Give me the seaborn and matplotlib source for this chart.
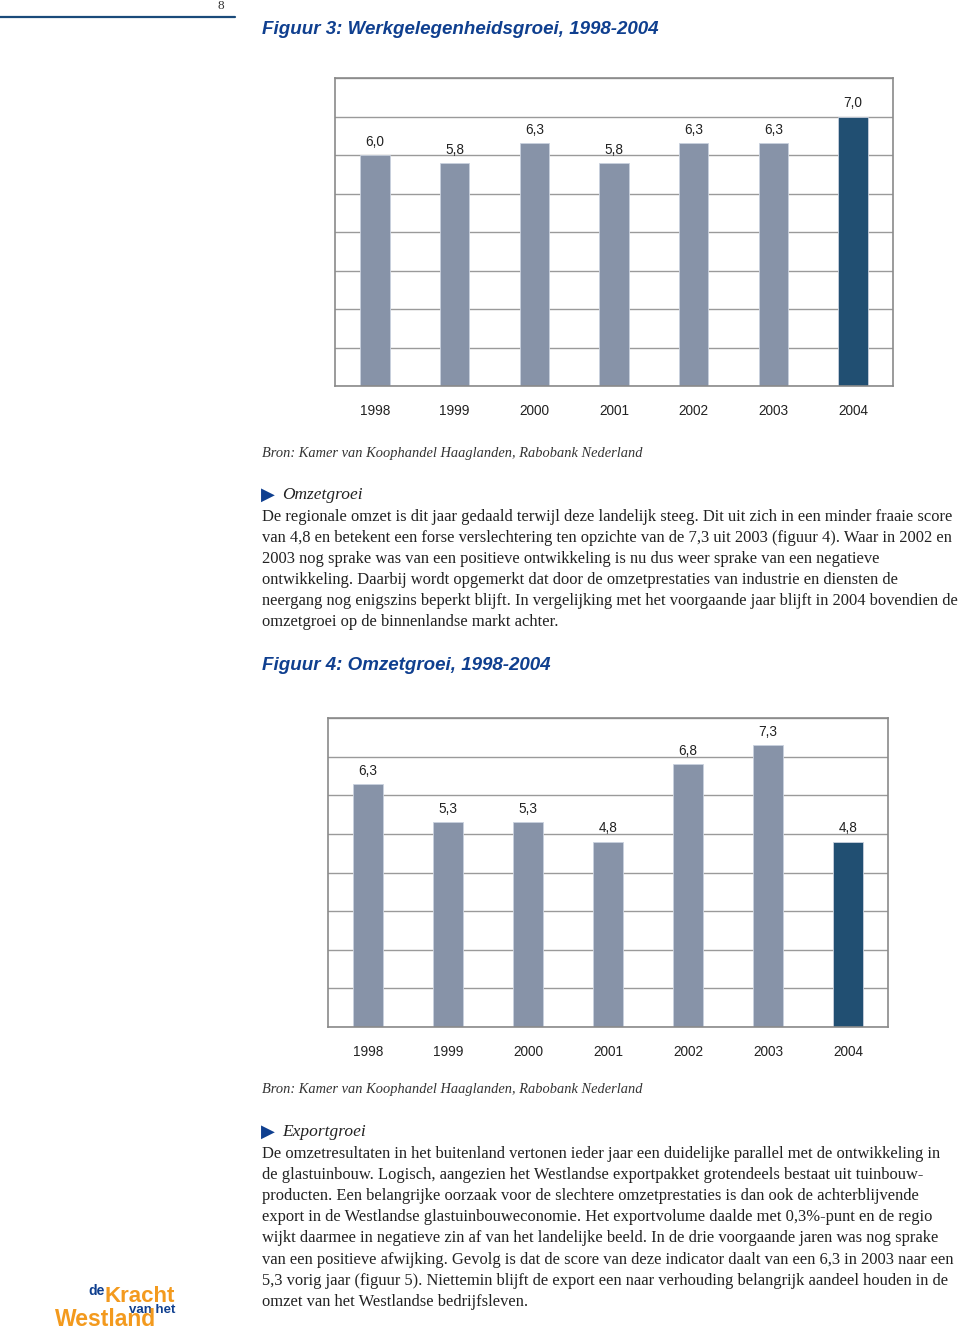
import matplotlib
matplotlib.use('Agg')
import matplotlib.pyplot as plt
import seaborn as sns

# data
years = ['1998', '1999', '2000', '2001', '2002', '2003', '2004']
werkgelegenheid = [6.0, 5.8, 6.3, 5.8, 6.3, 6.3, 7.0]
omzet = [6.3, 5.3, 5.3, 4.8, 6.8, 7.3, 4.8]
labels_werk = ['6,0', '5,8', '6,3', '5,8', '6,3', '6,3', '7,0']
labels_omzet = ['6,3', '5,3', '5,3', '4,8', '6,8', '7,3', '4,8']

titel3 = 'Figuur 3: Werkgelegenheidsgroei, 1998-2004'
titel4 = 'Figuur 4: Omzetgroei, 1998-2004'
bron = 'Bron: Kamer van Koophandel Haaglanden, Rabobank Nederland'

kop1 = 'Omzetgroei'
tekst1 = [
    'De regionale omzet is dit jaar gedaald terwijl deze landelijk steeg. Dit uit zich in een minder fraaie score',
    'van 4,8 en betekent een forse verslechtering ten opzichte van de 7,3 uit 2003 (figuur 4). Waar in 2002 en',
    '2003 nog sprake was van een positieve ontwikkeling is nu dus weer sprake van een negatieve',
    'ontwikkeling. Daarbij wordt opgemerkt dat door de omzetprestaties van industrie en diensten de',
    'neergang nog enigszins beperkt blijft. In vergelijking met het voorgaande jaar blijft in 2004 bovendien de',
    'omzetgroei op de binnenlandse markt achter.',
]
kop2 = 'Exportgroei'
tekst2 = [
    'De omzetresultaten in het buitenland vertonen ieder jaar een duidelijke parallel met de ontwikkeling in',
    'de glastuinbouw. Logisch, aangezien het Westlandse exportpakket grotendeels bestaat uit tuinbouw-',
    'producten. Een belangrijke oorzaak voor de slechtere omzetprestaties is dan ook de achterblijvende',
    'export in de Westlandse glastuinbouweconomie. Het exportvolume daalde met 0,3%-punt en de regio',
    'wijkt daarmee in negatieve zin af van het landelijke beeld. In de drie voorgaande jaren was nog sprake',
    'van een positieve afwijking. Gevolg is dat de score van deze indicator daalt van een 6,3 in 2003 naar een',
    '5,3 vorig jaar (figuur 5). Niettemin blijft de export een naar verhouding belangrijk aandeel houden in de',
    'omzet van het Westlandse bedrijfsleven.',
]

licht = '#8191ae'
donker = '#14517f'
blauw = '#0f3f8f'
oranje = '#f39a1e'
kleuren = {y: licht for y in years}
kleuren['2004'] = donker

sns.set_style('white')
W, H = 960, 1329
fig = plt.figure(figsize=(W / 100, H / 100), dpi=100)

def fy(y):
    return 1 - y / H

def fx(x):
    return x / W

serif = ['Liberation Serif', 'DejaVu Serif']
sans = ['Liberation Sans', 'DejaVu Sans']


def staafgrafiek(rect, waarden, labels):
    ax = fig.add_axes(rect)
    sns.barplot(x=years, y=waarden, hue=years, palette=kleuren, legend=False,
                width=0.37, edgecolor='#c9d1de', linewidth=0.6, ax=ax)
    ax.set_xlim(-0.5, 6.5)
    ax.set_ylim(0, 8)
    ax.set_yticks(range(0, 9))
    ax.set_yticklabels([])
    ax.yaxis.grid(True, color='#9a9a9a', lw=1)
    ax.set_axisbelow(True)
    ax.tick_params(length=0)
    ax.tick_params(axis='x', pad=13)
    for lab in ax.get_xticklabels():
        lab.set_family(sans)
        lab.set_fontsize(9.8)
        lab.set_color('#222222')
    for s in ax.spines.values():
        s.set_visible(True)
        s.set_color('#8a8a8a')
        s.set_linewidth(1.2)
    for i, (v, t) in enumerate(zip(waarden, labels)):
        ax.text(i, v + 0.34, t, ha='center', va='center', family=sans,
                fontsize=9.8, color='#222222')
    return ax


staafgrafiek([fx(335), fy(386), 558 / W, 308 / H], werkgelegenheid, labels_werk)
staafgrafiek([fx(328), fy(1027), 560 / W, 309 / H], omzet, labels_omzet)

# header
fig.add_artist(plt.Line2D([0, fx(235)], [fy(17), fy(17)], color='#1a4a7a', lw=1.6))
fig.text(fx(221), fy(6), '8', family=serif, fontsize=9.5, ha='center', va='center', color='#333333')

titel_font = dict(family=sans, weight='bold', style='italic',
                  fontsize=13.5, color=blauw, ha='left', va='center')
fig.text(fx(262), fy(29), titel3, **titel_font)
fig.text(fx(262), fy(665), titel4, **titel_font)

bron_font = dict(family=serif, style='italic', fontsize=10.4, color='#333333', ha='left', va='center')
fig.text(fx(262), fy(453), bron, **bron_font)
fig.text(fx(262), fy(1090), bron, **bron_font)


def paragraaf(y_kop, kop, regels):
    fig.text(fx(261), fy(y_kop), '\u25b6', family='DejaVu Sans', fontsize=13,
             color=blauw, ha='left', va='center')
    fig.text(fx(282), fy(y_kop), kop, family=serif, style='italic', fontsize=12.5,
             color='#222222', ha='left', va='center')
    for i, r in enumerate(regels):
        fig.text(fx(262), fy(y_kop + 22 + i * 21.1), r, family=serif, fontsize=11.9,
                 color='#222222', ha='left', va='center')


paragraaf(495, kop1, tekst1)
paragraaf(1132, kop2, tekst2)

# logo
logo = dict(family=sans, weight='bold', ha='left', va='baseline')
fig.text(fx(88), fy(1295), 'de', color=blauw, fontsize=10, **logo)
fig.text(fx(104), fy(1302), 'Kracht', color=oranje, fontsize=16, **logo)
fig.text(fx(129), fy(1313), 'van het', color=blauw, fontsize=9.5, **logo)
fig.text(fx(55), fy(1326), 'Westland', color=oranje, fontsize=16.5, **logo)

fig.savefig('out.png', dpi=100)
